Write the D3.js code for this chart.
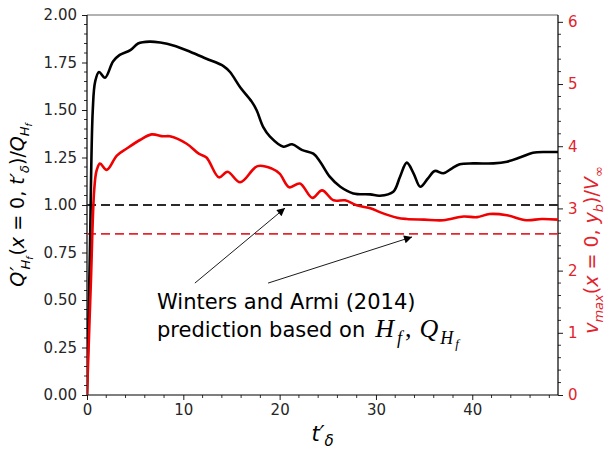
<!DOCTYPE html>
<html>
<head>
<meta charset="utf-8">
<script src="https://cdn.jsdelivr.net/npm/d3@7"></script>
<style>
  html, body { margin: 0; padding: 0; background: #fff; }
  svg { display: block; }
  text { font-family: "DejaVu Sans", sans-serif; }
</style>
</head>
<body>
<svg id="chart" width="605" height="449"></svg>
<script>
// Time axis t'_δ and flux ratio Q'_Hf / Q_Hf (left axis)
const fluxT = [0, 0.3, 0.6, 0.85, 1.25, 1.87, 2.7, 3.4, 4.5, 5.3, 6.5, 7.6, 8.96, 10.7, 12.4, 14.2, 14.85,
  15.9, 17.1, 17.6, 18.3, 19.0, 20.4, 21.3, 22.3, 23.5, 24.2, 25.2, 26.3, 27.65, 29.4, 30.4, 31.8,
  32.5, 33.2, 33.9, 34.6, 35.4, 36.1, 37.0, 37.9, 38.7, 40.1, 42.2, 43.6, 45.0, 46.3, 47.7, 48.9];
const fluxQ = [0, 0.75, 1.5, 1.65, 1.70, 1.67, 1.755, 1.79, 1.815, 1.85, 1.86, 1.855, 1.84, 1.807, 1.77, 1.73, 1.70,
  1.62, 1.544, 1.50, 1.41, 1.36, 1.307, 1.32, 1.29, 1.27, 1.228, 1.149, 1.096, 1.061, 1.056, 1.049, 1.07,
  1.149, 1.223, 1.167, 1.096, 1.14, 1.179, 1.167, 1.193, 1.214, 1.219, 1.219, 1.228, 1.251, 1.275, 1.279, 1.279];

// Maximum velocity v_max / V_∞ (right axis)
const velT = [0, 0.4, 0.75, 1.0, 1.35, 2.05, 3.1, 4.1, 5.5, 6.7, 7.9, 8.6, 10.35, 11.6, 12.4, 13.7, 14.6,
  15.9, 17.7, 19.2, 20.0, 21.0, 22.1, 23.4, 24.4, 25.6, 26.8, 28.0, 29.5, 30.4, 32.2, 33.2, 35.0,
  37.0, 39.1, 40.5, 41.8, 43.6, 45.6, 47.2, 48.9];
const velV = [0, 1.8, 3.3, 3.61, 3.72, 3.62, 3.85, 3.96, 4.10, 4.19, 4.16, 4.16, 4.04, 3.88, 3.82, 3.50, 3.59,
  3.42, 3.68, 3.64, 3.56, 3.34, 3.40, 3.17, 3.29, 3.13, 3.13, 3.05, 3.0, 2.94, 2.85, 2.83, 2.82,
  2.81, 2.87, 2.86, 2.91, 2.89, 2.81, 2.83, 2.82];

// Winters and Armi (2014) predictions
const predFlux = 1.0;   // left axis
const predVel = 2.59;   // right axis

const xTicks = [0, 10, 20, 30, 40];
const leftTicks = [0, 0.25, 0.5, 0.75, 1.0, 1.25, 1.5, 1.75, 2.0];
const rightTicks = [0, 1, 2, 3, 4, 5, 6];

const W = 605, H = 449;
const m = { left: 87, right: 47, top: 15, bottom: 54 };
const svg = d3.select("#chart");

const x = d3.scaleLinear().domain([0, 48.9]).range([m.left, W - m.right]);
const yL = d3.scaleLinear().domain([0, 2]).range([H - m.bottom, m.top]);
const yR = d3.scaleLinear().domain([0, 6.11]).range([H - m.bottom, m.top]);

const RED = "#f00000";
const RED_TXT = "#e2232b";
const TICK_TXT = "#262626";

// Minor ticks
function minor(axisG, scale, vals, orient) {
  vals.forEach(v => {
    const p = scale(v);
    if (orient === "bottom") axisG.append("line").attr("x1", p).attr("x2", p).attr("y1", 0).attr("y2", 3);
    else if (orient === "left") axisG.append("line").attr("y1", p).attr("y2", p).attr("x1", 0).attr("x2", -3);
    else axisG.append("line").attr("y1", p).attr("y2", p).attr("x1", 0).attr("x2", 3);
  });
}

// Bottom axis
const gx = svg.append("g").attr("transform", `translate(0,${H - m.bottom})`)
  .call(d3.axisBottom(x).tickValues(xTicks).tickSize(5).tickPadding(4).tickFormat(d3.format("d")));
minor(gx.append("g").attr("stroke", "#000").attr("stroke-width", 0.8), x, d3.range(0, 49, 2).filter(v => v % 10), "bottom");

// Left axis
const gl = svg.append("g").attr("transform", `translate(${m.left},0)`)
  .call(d3.axisLeft(yL).tickValues(leftTicks).tickSize(5).tickPadding(5).tickFormat(d3.format(".2f")));
minor(gl.append("g").attr("stroke", "#000").attr("stroke-width", 0.8), yL,
  d3.range(0, 2.0001, 0.05).filter(v => Math.abs(v / 0.25 - Math.round(v / 0.25)) > 1e-6), "left");

// Right axis
const gr = svg.append("g").attr("transform", `translate(${W - m.right},0)`)
  .call(d3.axisRight(yR).tickValues(rightTicks).tickSize(5).tickPadding(5).tickFormat(d3.format("d")));
minor(gr.append("g").attr("stroke", "#000").attr("stroke-width", 0.8), yR,
  d3.range(0, 6.11, 0.2).filter(v => Math.abs(v - Math.round(v)) > 1e-6), "right");

[gx, gl, gr].forEach(g => {
  g.select(".domain").remove();
  g.selectAll(".tick line").attr("stroke", "#000").attr("stroke-width", 0.9);
  g.selectAll(".tick text").attr("font-size", 15).attr("font-family", "DejaVu Sans").attr("fill", TICK_TXT);
});
gr.selectAll(".tick text").attr("fill", RED_TXT);

// Frame
svg.append("line").attr("x1", m.left).attr("x2", W - m.right).attr("y1", m.top).attr("y2", m.top)
  .attr("stroke", "#666").attr("stroke-width", 1.2);
svg.append("line").attr("x1", m.left).attr("x2", W - m.right).attr("y1", H - m.bottom).attr("y2", H - m.bottom)
  .attr("stroke", "#000").attr("stroke-width", 1.2);
svg.append("line").attr("x1", m.left).attr("x2", m.left).attr("y1", m.top).attr("y2", H - m.bottom)
  .attr("stroke", "#000").attr("stroke-width", 1.2);
svg.append("line").attr("x1", W - m.right).attr("x2", W - m.right).attr("y1", m.top).attr("y2", H - m.bottom)
  .attr("stroke", "#000").attr("stroke-width", 1.2);

// Prediction lines
svg.append("line").attr("x1", x(0)).attr("x2", x(48.9)).attr("y1", yL(predFlux)).attr("y2", yL(predFlux))
  .attr("stroke", "#2a2a2a").attr("stroke-width", 2).attr("stroke-dasharray", "9,5");
svg.append("line").attr("x1", x(0)).attr("x2", x(48.9)).attr("y1", yR(predVel)).attr("y2", yR(predVel))
  .attr("stroke", "#e8242c").attr("stroke-width", 1.8).attr("stroke-dasharray", "9,5");

// Curves
svg.append("clipPath").attr("id", "plotclip").append("rect")
  .attr("x", m.left).attr("y", m.top).attr("width", W - m.left - m.right).attr("height", H - m.top - m.bottom);

const lineL = d3.line().x(d => x(d[0])).y(d => yL(d[1])).curve(d3.curveCatmullRom.alpha(0.5));
const lineR = d3.line().x(d => x(d[0])).y(d => yR(d[1])).curve(d3.curveCatmullRom.alpha(0.5));

svg.append("path").datum(d3.zip(fluxT, fluxQ)).attr("d", lineL)
  .attr("fill", "none").attr("stroke", "#000").attr("stroke-width", 2.6).attr("clip-path", "url(#plotclip)");
svg.append("path").datum(d3.zip(velT, velV)).attr("d", lineR)
  .attr("fill", "none").attr("stroke", RED).attr("stroke-width", 2.6).attr("clip-path", "url(#plotclip)");

// Annotation arrows
const defs = svg.append("defs");
defs.append("marker").attr("id", "head").attr("viewBox", "0 0 10 10").attr("refX", 10).attr("refY", 5)
  .attr("markerWidth", 14).attr("markerHeight", 8).attr("markerUnits", "userSpaceOnUse").attr("orient", "auto")
  .append("path").attr("d", "M0,0 L10,5 L0,10 z").attr("fill", "#000");

const arrows = [
  { from: [11.2, 0.589], to: [20.56, 0.984] },
  { from: [18.8, 0.589], to: [33.75, 0.832] }
];
arrows.forEach(a => {
  svg.append("line")
    .attr("x1", x(a.from[0])).attr("y1", yL(a.from[1]))
    .attr("x2", x(a.to[0])).attr("y2", yL(a.to[1]))
    .attr("stroke", "#000").attr("stroke-width", 0.9).attr("marker-end", "url(#head)");
});

// Annotation text
const ann = svg.append("text").attr("x", x(7.27)).attr("y", yL(0.452))
  .attr("font-size", 21).attr("fill", "#000");
ann.append("tspan").text("Winters and Armi (2014)");
const ann2 = svg.append("text").attr("x", x(7.27)).attr("y", yL(0.305))
  .attr("font-size", 21).attr("fill", "#000");
ann2.append("tspan").text("prediction based on");
const SERIF = "Liberation Serif, serif";
function mt(parent, txt, size, dy, dx) {
  const t = parent.append("tspan").text(txt).attr("font-family", SERIF)
    .attr("font-style", "italic").attr("font-size", size);
  if (dy !== undefined) t.attr("dy", dy);
  if (dx !== undefined) t.attr("dx", dx);
  return t;
}
mt(ann2, "H", 26, 0, 10);
mt(ann2, "f", 18, 7, 3);
ann2.append("tspan").text(",").attr("font-family", SERIF).attr("font-size", 26).attr("dy", -7).attr("dx", 3);
mt(ann2, "Q", 26, 0, 8);
mt(ann2, "H", 18, 7, 2);
mt(ann2, "f", 13, 4, 2);

// Left axis label
const ll = svg.append("text").attr("transform", `translate(24,${(m.top + H - m.bottom) / 2}) rotate(-90)`)
  .attr("text-anchor", "middle").attr("font-size", 19).attr("fill", "#000");
ll.append("tspan").text("Q").attr("font-style", "italic");
ll.append("tspan").text("′").attr("font-style", "italic").attr("dx", 1);
ll.append("tspan").text("H").attr("font-style", "italic").attr("font-size", 13).attr("dy", 6).attr("dx", -3);
ll.append("tspan").text("f").attr("font-style", "italic").attr("font-size", 9).attr("dy", 3);
ll.append("tspan").text("(").attr("dy", -9).attr("dx", 1);
ll.append("tspan").text("x").attr("font-style", "italic");
ll.append("tspan").text(" = 0, ");
ll.append("tspan").text("t").attr("font-style", "italic");
ll.append("tspan").text("′").attr("font-style", "italic");
ll.append("tspan").text("δ").attr("font-style", "italic").attr("font-size", 13).attr("dy", 5);
ll.append("tspan").text(")/").attr("dy", -5);
ll.append("tspan").text("Q").attr("font-style", "italic");
ll.append("tspan").text("H").attr("font-style", "italic").attr("font-size", 13).attr("dy", 5);
ll.append("tspan").text("f").attr("font-style", "italic").attr("font-size", 9).attr("dy", 3);

// Right axis label
const rl = svg.append("text").attr("transform", `translate(598,${(m.top + H - m.bottom) / 2 + 45}) rotate(-90)`)
  .attr("text-anchor", "middle").attr("font-size", 19).attr("fill", RED_TXT);
rl.append("tspan").text("v").attr("font-style", "italic");
rl.append("tspan").text("max").attr("font-style", "italic").attr("font-size", 13).attr("dy", 5);
rl.append("tspan").text("(").attr("dy", -5);
rl.append("tspan").text("x").attr("font-style", "italic");
rl.append("tspan").text(" = 0, ");
rl.append("tspan").text("y").attr("font-style", "italic");
rl.append("tspan").text("b").attr("font-style", "italic").attr("font-size", 13).attr("dy", 5);
rl.append("tspan").text(")/").attr("dy", -5);
rl.append("tspan").text("V").attr("font-style", "italic");
rl.append("tspan").text("∞").attr("font-size", 13).attr("dy", 5);

// Bottom axis label
const bl = svg.append("text").attr("x", x(24.45)).attr("y", 441)
  .attr("text-anchor", "middle").attr("font-size", 21).attr("fill", "#000");
bl.append("tspan").text("t").attr("font-style", "italic");
bl.append("tspan").text("′").attr("font-style", "italic");
bl.append("tspan").text("δ").attr("font-style", "italic").attr("font-size", 15).attr("dy", 5);
</script>
</body>
</html>
